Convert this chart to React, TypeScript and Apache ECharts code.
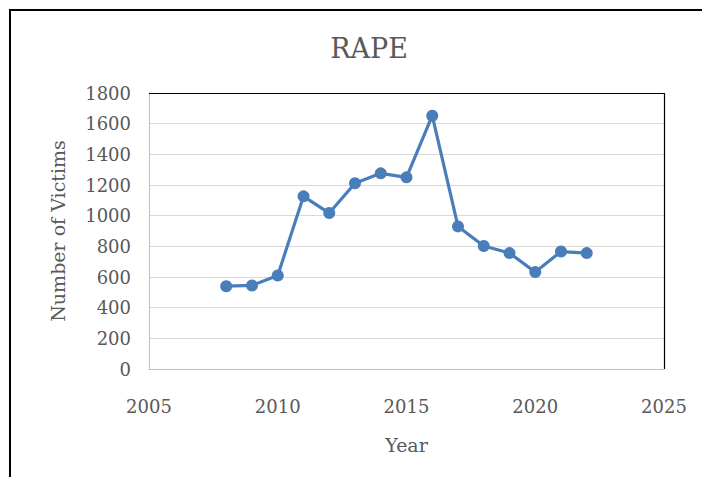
import React, { useEffect, useRef } from "react";
import * as echarts from "echarts";

const years = [2008, 2009, 2010, 2011, 2012, 2013, 2014, 2015, 2016, 2017, 2018, 2019, 2020, 2021, 2022];
const victims = [540, 545, 610, 1126, 1017, 1211, 1276, 1250, 1652, 930, 802, 756, 632, 766, 756];
const titleText = "RAPE";
const xAxisName = "Year";
const yAxisName = "Number of Victims";

export default function App() {
  const ref = useRef<HTMLDivElement>(null);
  useEffect(() => {
    if (!ref.current) return;
    const chart = echarts.init(ref.current, null, { renderer: "svg" });
    const font = "'DejaVu Serif', serif";
    chart.setOption({
      animation: false,
      backgroundColor: "#ffffff",
      title: {
        text: titleText,
        left: 364,
        top: 30,
        textAlign: "center",
        textStyle: { fontFamily: font, fontSize: 27, fontWeight: "normal", color: "#595959" },
      },
      graphic: [
        {
          type: "rect",
          shape: { x: 10, y: 10, width: 720, height: 500 },
          style: { fill: "none", stroke: "#000", lineWidth: 2 },
          silent: true,
        },
        {
          type: "polyline",
          shape: { points: [[149, 93.5], [664.5, 93.5], [664.5, 369]] },
          style: { fill: "none", stroke: "#000", lineWidth: 1.2 },
          silent: true,
          z: 10,
        },
      ],
      grid: {
        left: 149,
        top: 93,
        right: 38,
        bottom: 108,
        show: false,
      },
      xAxis: {
        type: "value",
        min: 2005,
        max: 2025,
        interval: 5,
        name: xAxisName,
        nameLocation: "middle",
        nameGap: 66,
        nameTextStyle: { fontFamily: font, fontSize: 19, color: "#595959" },
        axisLine: { show: true, lineStyle: { color: "#bfbfbf", width: 1 } },
        axisTick: { show: false },
        splitLine: { show: false },
        axisLabel: {
          fontFamily: font,
          fontSize: 18,
          color: "#595959",
          margin: 28,
          formatter: (v: number) => String(v),
        },
      },
      yAxis: {
        type: "value",
        min: 0,
        max: 1800,
        interval: 200,
        name: yAxisName,
        nameLocation: "middle",
        nameGap: 82,
        nameTextStyle: { fontFamily: font, fontSize: 19, color: "#595959" },
        axisLine: { show: true, lineStyle: { color: "#bfbfbf", width: 1 } },
        axisTick: { show: false },
        splitLine: { show: true, lineStyle: { color: "#d9d9d9", width: 1 } },
        axisLabel: {
          fontFamily: font,
          fontSize: 18,
          color: "#595959",
          margin: 18,
          formatter: (v: number) => String(v),
        },
      },
      series: [
        {
          type: "line",
          data: years.map((y, i) => [y, victims[i]]),
          symbol: "circle",
          symbolSize: 12,
          lineStyle: { color: "#4a7ebb", width: 3.2 },
          itemStyle: { color: "#4a7ebb" },
        },
      ],
    });
    return () => chart.dispose();
  }, []);
  return (
    <div
      ref={ref}
      style={{ position: "absolute", left: 0, top: 0, width: 702, height: 477 }}
    />
  );
}
